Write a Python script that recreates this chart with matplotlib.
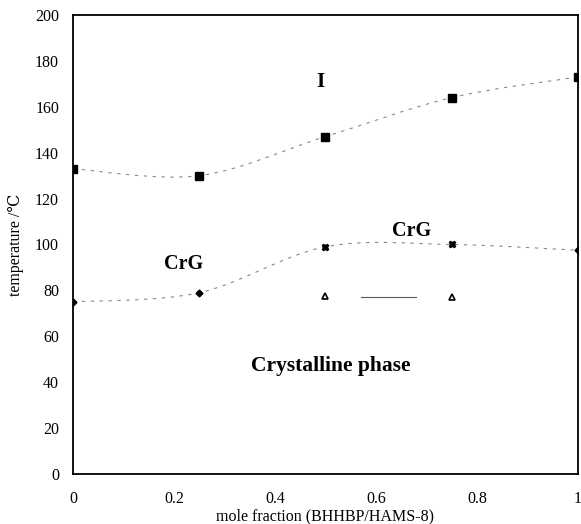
import numpy as np
import matplotlib
matplotlib.use("Agg")
import matplotlib.pyplot as plt
from matplotlib.path import Path
from matplotlib.patches import PathPatch

# data
x_frac = [0.0, 0.25, 0.5, 0.75, 1.0]
t_iso = [133, 130, 147, 164, 173]
t_crg = [75, 79, 99, 100, 97.5]
x_tri = [0.5, 0.75]
t_tri = [77.5, 77]

x_ticks = [0, 0.2, 0.4, 0.6, 0.8, 1]
x_ticklabels = ["0", "0.2", "0.4", "0.6", "0.8", "1"]
y_ticks = list(range(0, 201, 20))


def smooth_path(x, y):
    # Catmull-Rom style smoothing, like a spreadsheet "smoothed line"
    p = np.column_stack([x, y]).astype(float)
    ext = np.vstack([p[0], p, p[-1]])
    verts = [p[0]]
    codes = [Path.MOVETO]
    for i in range(1, len(ext) - 2):
        c1 = ext[i] + (ext[i + 1] - ext[i - 1]) / 6.0
        c2 = ext[i + 1] - (ext[i + 2] - ext[i]) / 6.0
        verts += [c1, c2, ext[i + 1]]
        codes += [Path.CURVE4] * 3
    return Path(verts, codes)


serif = ["Liberation Serif", "DejaVu Serif", "DejaVu Sans"]
plt.rcParams["font.family"] = serif

fig = plt.figure(figsize=(5.81, 5.24), dpi=100)
ax = fig.add_axes([0.1256, 0.0954, 0.8692, 0.876])

for yy in (t_iso, t_crg):
    ax.add_patch(PathPatch(smooth_path(x_frac, yy), fill=False, edgecolor="#888888",
                           lw=0.8, linestyle=(0, (3, 5))))

ax.plot(x_frac, t_iso, linestyle="none", marker="s", ms=5.5, color="black")
ax.plot([0, 0.25, 1], [t_crg[0], t_crg[1], t_crg[4]], linestyle="none",
        marker="D", ms=3.5, color="black")
ax.plot(x_frac[2:4], t_crg[2:4], linestyle="none", marker="X", ms=5, color="black")
ax.plot(x_tri, t_tri, linestyle="none", marker="^", ms=4.5, mfc="white",
        mec="black", mew=1.2)
ax.plot([0.57, 0.68], [np.mean(t_tri), np.mean(t_tri)], color="#555555", lw=0.8)

ax.text(0.49, 171, "I", fontsize=15, fontweight="bold", ha="center", va="center")
ax.text(0.22, 91.5, "CrG", fontsize=14.5, fontweight="bold", ha="center", va="center")
ax.text(0.67, 106, "CrG", fontsize=14.5, fontweight="bold", ha="center", va="center")
ax.text(0.51, 47, "Crystalline phase", fontsize=15.5, fontweight="bold",
        ha="center", va="center")

ax.set_xlim(0, 1)
ax.set_ylim(0, 200)
ax.set_xticks(x_ticks)
ax.set_xticklabels(x_ticklabels)
ax.set_yticks(y_ticks)
ax.tick_params(axis="x", length=0, pad=12, labelsize=11.5)
ax.tick_params(axis="y", length=0, pad=10, labelsize=11.5)
for s in ax.spines.values():
    s.set_linewidth(1.3)

ax.set_xlabel("mole fraction (BHHBP/HAMS-8)", fontsize=11.5, labelpad=1)
ax.set_ylabel("temperature /\u2103", fontsize=11.5, labelpad=8)

fig.savefig("out.png", dpi=100)
